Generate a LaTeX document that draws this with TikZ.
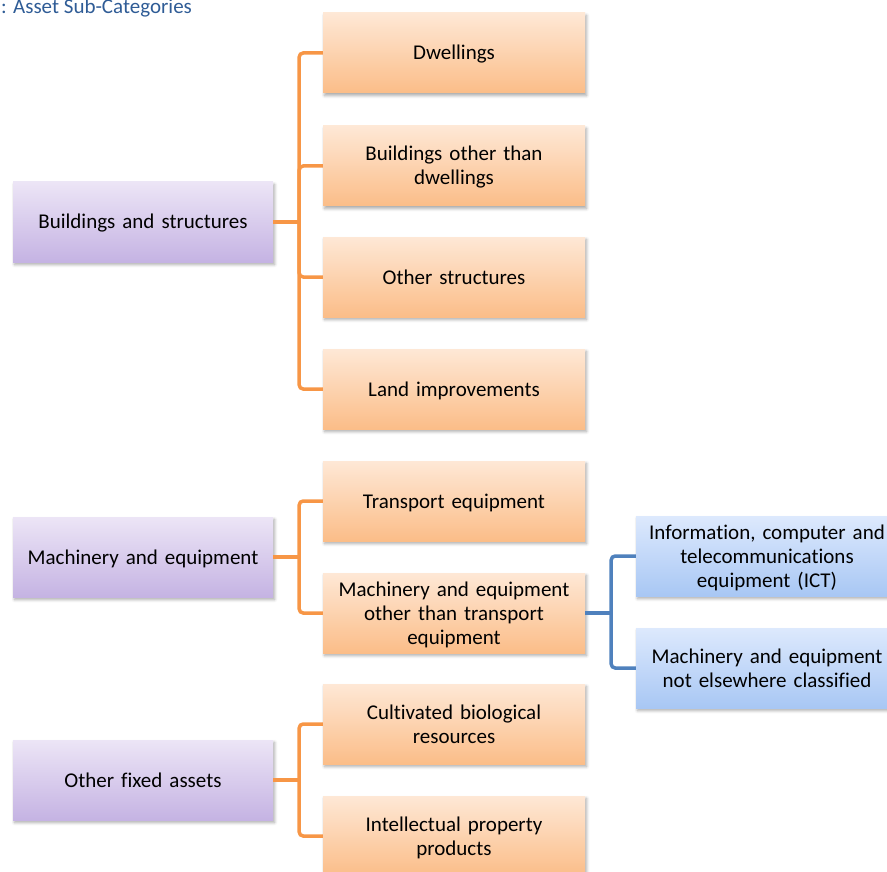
\documentclass[tikz,border=0pt]{standalone}
\usepackage{fontspec}
\setmainfont{Carlito}[Ligatures=NoCommon]
\usetikzlibrary{shadows.blur,calc}

\definecolor{titleblue}{HTML}{2F5C96}
\definecolor{linkorange}{HTML}{F79646}
\definecolor{linkblue}{HTML}{4F81BD}
\definecolor{purpletop}{HTML}{ECE5F6}
\definecolor{purplebot}{HTML}{C5B3E3}
\definecolor{orangetop}{HTML}{FEE8D6}
\definecolor{orangebot}{HTML}{FBBD88}
\definecolor{bluetop}{HTML}{DDE9FD}
\definecolor{bluebot}{HTML}{A8C7F4}

\tikzset{
  % fixed line metrics so every box centres its text the same way
  nlines/.style={text height=16pt, text depth={#1*24pt-22pt}},
  nlines/.default=1,
  box/.style={rectangle, inner sep=2pt, align=center, text=black,
    font=\fontsize{21}{24}\selectfont, nlines,
    blur shadow={shadow xshift=1.5pt, shadow yshift=-2.5pt,
      shadow blur radius=3pt, shadow blur steps=6, shadow opacity=35}},
  catbox/.style={box, minimum width=260pt, minimum height=80pt, text width=250pt,
    top color=purpletop, bottom color=purplebot},
  subbox/.style={box, minimum width=262pt, minimum height=80pt, text width=252pt,
    top color=orangetop, bottom color=orangebot},
  detbox/.style={box, minimum width=262pt, minimum height=80pt, text width=252pt,
    top color=bluetop, bottom color=bluebot},
  olink/.style={draw=linkorange, line width=3.5pt, rounded corners=4pt},
  blink/.style={draw=linkblue, line width=3.5pt, rounded corners=4pt},
}

\begin{document}
\begin{tikzpicture}[x=1pt, y=-1pt]
\useasboundingbox (0,0) rectangle (887,872);
\clip (0,0) rectangle (887,872);

% heading
\node[anchor=base west, inner sep=0, text=titleblue,
  font=\fontsize{21}{24}\selectfont] (title) at (1,14) {: Asset Sub-Categories};

% top-level categories
\node[catbox] (bs) at (143,222) {Buildings and structures};
\node[catbox] (me) at (143,557) {Machinery and equipment};
\node[catbox] (of) at (143,780) {Other fixed assets};

% sub-categories
\node[subbox] (dw) at (454,53)  {Dwellings};
\node[subbox, nlines=2] (bo) at (454,166) {Buildings other than\\dwellings};
\node[subbox] (os) at (454,277) {Other structures};
\node[subbox] (li) at (454,389) {Land improvements};
\node[subbox] (te) at (454,501) {Transport equipment};
\node[subbox, nlines=3] (mo) at (454,613) {Machinery and equipment\\other than transport\\equipment};
\node[subbox, nlines=2] (cb) at (454,724) {Cultivated biological\\resources};
\node[subbox, nlines=2] (ip) at (454,836) {Intellectual property\\products};

% detail level
\node[detbox, nlines=3] (ict) at (767,556) {Information, computer and\\telecommunications\\equipment (ICT)};
\node[detbox, nlines=2] (nec) at (767,668) {Machinery and equipment\\not elsewhere classified};

% branch points
\coordinate (jbs) at ($(bs.east)+(26,0)$);
\coordinate (jme) at ($(me.east)+(26,0)$);
\coordinate (jof) at ($(of.east)+(26,0)$);
\coordinate (jmo) at ($(mo.east)+(26,0)$);

% connectors
\draw[olink] (bs.east) -- (jbs);
\foreach \c in {dw,bo,os,li} \draw[olink] (jbs) |- (\c.west);
\draw[olink] (me.east) -- (jme);
\foreach \c in {te,mo} \draw[olink] (jme) |- (\c.west);
\draw[olink] (of.east) -- (jof);
\foreach \c in {cb,ip} \draw[olink] (jof) |- (\c.west);
\draw[blink] (mo.east) -- (jmo);
\foreach \c in {ict,nec} \draw[blink] (jmo) |- (\c.west);
\end{tikzpicture}
\end{document}
